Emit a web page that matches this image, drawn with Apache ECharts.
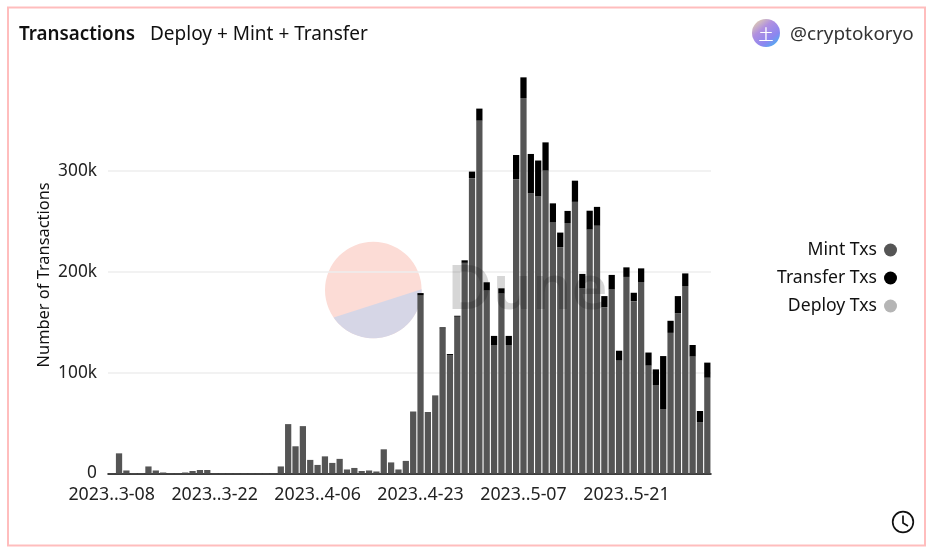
<!DOCTYPE html>
<html><head><meta charset="utf-8">
<style>html,body{margin:0;padding:0;background:#fff}#c{width:933px;height:553px}</style>
<script src="https://cdn.jsdelivr.net/npm/echarts@6/dist/echarts.min.js"></script>
</head><body><div id="c"></div>
<script>
const categories = ["2023..3-08","2023..3-09","2023..3-10","2023..3-11","2023..3-12","2023..3-13","2023..3-14","2023..3-15","2023..3-16","2023..3-17","2023..3-18","2023..3-19","2023..3-20","2023..3-21",
"2023..3-22","2023..3-23","2023..3-24","2023..3-25","2023..3-26","2023..3-27","2023..3-28","2023..3-29","2023..3-30","2023..3-31","2023..4-01","2023..4-02","2023..4-03","2023..4-05",
"2023..4-06","2023..4-07","2023..4-08","2023..4-09","2023..4-10","2023..4-11","2023..4-12","2023..4-13","2023..4-14","2023..4-16","2023..4-17","2023..4-19","2023..4-20","2023..4-22",
"2023..4-23","2023..4-24","2023..4-25","2023..4-26","2023..4-27","2023..4-28","2023..4-29","2023..4-30","2023..5-01","2023..5-02","2023..5-03","2023..5-04","2023..5-05","2023..5-06",
"2023..5-07","2023..5-08","2023..5-09","2023..5-10","2023..5-11","2023..5-12","2023..5-13","2023..5-14","2023..5-15","2023..5-16","2023..5-17","2023..5-18","2023..5-19","2023..5-20",
"2023..5-21","2023..5-22","2023..5-23","2023..5-24","2023..5-25","2023..5-26","2023..5-27","2023..5-28","2023..5-29","2023..5-30","2023..5-31","2023..6-01"];
const mintTxs = [0.3,20,3,0.5,0.5,7,3,1,0.3,0.3,1,2.5,3.5,3.5,
0.3,0.3,0.3,0.3,0.3,0.3,0.3,0.3,0.3,7,49,27,47,13.5,
8.5,17,10.5,14.5,4,5.5,2.5,3,2,24,11,4,12.5,61.5,
177,61,77.5,144,117.5,155.5,209,293,350,181.5,127.5,178.7,127.5,292,
372.5,278,275,300.5,249,224.5,248.5,269.5,183.7,242,245.8,165,182.7,112,
195,171,190,107,87.8,64,139.5,159,186,116,51,95];
const transferTxs = [0,0,0,0,0,0,0,0,0,0,0,0,0,0,
0,0,0,0,0,0,0,0,0,0,0,0,0,0,
0,0,0,0,0,0,0,0,0,0,0,0,0,0,
2,0,0,1,1,1,2.5,6.5,12,8.2,9,5,9,24,
20.5,39,35.5,28,19,14.5,12,21,14.3,18.7,18.7,11,14.3,9.8,
9.5,8.3,13.5,13,15.5,52.5,12,17,12.5,11.5,11,15];
const deployTxs = [0,0,0,0,0,0,0,0,0,0,0,0,0,0,
0,0,0,0,0,0,0,0,0,0,0,0,0,0,
0,0,0,0,0,0,0,0,0,0,0,0,0,0,
0,0,0,0,0,0,0,0,0,0,0,0,0,0,
0,0,0,0,0,0,0,0,0,0,0,0,0,0,
0,0,0,0,0,0,0,0,0,0,0,0];
const font = '"Noto Sans", sans-serif';
const k = a => a.map(v => v * 1000);
const chart = echarts.init(document.getElementById('c'), null, {renderer:'canvas'});
const bar = (name, data, color) => ({name, type:'bar', stack:'t', data:k(data), barCategoryGap:'15%', itemStyle:{color}, z:3});
const segment = [];
for (let i = 0; i <= 60; i++) {
  const a = -0.0145 + (2.534 + 0.0145) * i / 60;
  segment.push([373.3 + 48.3 * Math.cos(a), 290 + 48.3 * Math.sin(a)]);
}
chart.setOption({
  animation:false,
  backgroundColor:'#fff',
  grid:{left:108, right:222, top:70.3, bottom:79.5},
  xAxis:{type:'category', data:categories, axisTick:{show:false},
    axisLine:{lineStyle:{color:'#000', width:1.5}},
    axisLabel:{interval:13, color:'#222', fontFamily:font, fontSize:17.8, margin:12, hideOverlap:false}},
  yAxis:{type:'value', min:0, max:400000, interval:100000,
    name:'Number of Transactions', nameLocation:'middle', nameGap:56, nameMoveOverlap:false,
    nameTextStyle:{color:'#111', fontFamily:font, fontSize:16.4, padding:[0,6,0,0]},
    axisLine:{show:false}, axisTick:{show:false},
    splitLine:{showMaxLine:false, showMinLine:false, lineStyle:{color:'#eeeeee', width:1.5}},
    axisLabel:{showMaxLabel:false, color:'#222', fontFamily:font, fontSize:17.3, margin:11,
      formatter:v => v === 0 ? '0' : (v/1000) + 'k'}},
  legend:{orient:'vertical', right:31, top:236, align:'right', icon:'circle', itemWidth:13, itemHeight:13, itemGap:10,
    data:['Mint Txs','Transfer Txs','Deploy Txs'],
    textStyle:{color:'#111', fontFamily:font, fontSize:17.6, padding:[0,2,0,0]}},
  series:[bar('Mint Txs',mintTxs,'#555555'),bar('Transfer Txs',transferTxs,'#000000'),bar('Deploy Txs',deployTxs,'#b5b5b5')],
  graphic:[
    {type:'rect', z:0, shape:{x:8,y:7.5,width:917,height:538}, style:{fill:'none',stroke:'#ffbdbd',lineWidth:2}},
    {type:'circle', z:0, shape:{cx:373.3,cy:290,r:48.3}, style:{fill:'#fcdcd6'}},
    {type:'polygon', z:0, shape:{points:segment}, style:{fill:'#d6d6e6'}},
    {type:'text', z:10, style:{x:447,y:291,text:'Dune',fill:'rgba(0,0,0,0.16)',font:'600 62px '+font,textVerticalAlign:'middle'}},
    {type:'text', z:10, style:{x:19,y:34.5,text:'Transactions',fill:'#111',font:'600 18.8px '+font,textVerticalAlign:'middle'}},
    {type:'text', z:10, style:{x:150,y:34.5,text:'Deploy + Mint + Transfer',fill:'#111',font:'19px '+font,textVerticalAlign:'middle'}},
    {type:'circle', z:10, shape:{cx:766,cy:33,r:14}, style:{fill:new echarts.graphic.LinearGradient(0.1,0,0.9,1,[{offset:0,color:'#e8d8a8'},{offset:0.35,color:'#b090e0'},{offset:0.7,color:'#8c86f0'},{offset:1,color:'#3cb8f0'}])}},
    {type:'text', z:11, style:{x:766,y:34,text:'土',fill:'#fff',font:'15px "Noto Sans CJK SC"',textAlign:'center',textVerticalAlign:'middle'}},
    {type:'text', z:10, style:{x:790,y:34.5,text:'@cryptokoryo',fill:'#333',font:'18.9px '+font,textVerticalAlign:'middle'}},
    {type:'circle', z:10, shape:{cx:903,cy:522,r:10.3}, style:{fill:'none',stroke:'#111',lineWidth:1.7}},
    {type:'polyline', z:10, shape:{points:[[903,515.5],[903,523],[908,526]]}, style:{fill:'none',stroke:'#111',lineWidth:1.7}}
  ]
});
</script></body></html>
